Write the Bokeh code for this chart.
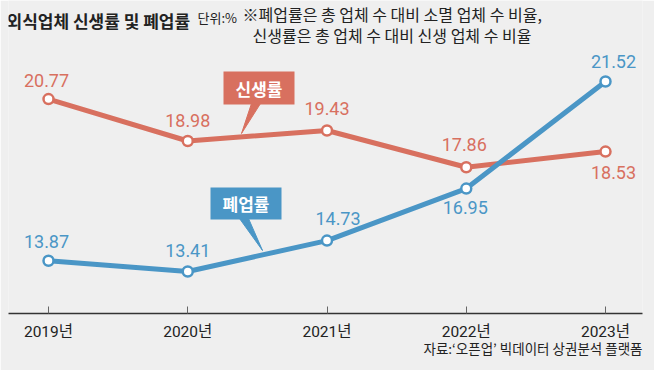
from bokeh.plotting import figure
from bokeh.models import Range1d, FixedTicker, Label, LinearAxis
from bokeh.embed import file_html
from bokeh.resources import INLINE

# ---- data ----
years = ["2019년", "2020년", "2021년", "2022년", "2023년"]
new_rate = [20.77, 18.98, 19.43, 17.86, 18.53]      # 신생률
close_rate = [13.87, 13.41, 14.73, 16.95, 21.52]    # 폐업률
x_idx = list(range(len(years)))
source_note = "자료:‘오픈업’ 빅데이터 상권분석 플랫폼"

# ---- style ----
BG = "#efefef"
RED = "#d8705f"
BLUE = "#4a96c6"
DARK = "#222222"
KR = "Noto Sans CJK KR"
NUM = "Roboto"

# frame geometry (page px) used to place annotations
X0_PX, DX_PX = 56.0, 139.25
Y0_PX, Y0_VAL, PX_PER = 89.0, 21.52, 23.43


def px2x(px):
    return (px - X0_PX) / DX_PX


def py2y(py):
    return Y0_VAL - (py - Y0_PX) / PX_PER


p = figure(width=654, height=370, output_backend="svg", toolbar_location=None,
           x_range=Range1d(px2x(16), px2x(650)), y_range=Range1d(py2y(321), py2y(8)),
           min_border_left=8, min_border_right=12, min_border_top=0, min_border_bottom=57,
           y_axis_location=None, background_fill_color=BG, border_fill_color=BG,
           outline_line_color=None)
p.grid.visible = False

# x axis
ax = p.xaxis[0]
ax.ticker = FixedTicker(ticks=x_idx)
ax.major_label_overrides = {i: y for i, y in zip(x_idx, years)}
ax.axis_line_color = "#333333"
ax.axis_line_width = 1.5
ax.major_tick_in = 7
ax.major_tick_out = 0
ax.major_tick_line_color = "#666666"
ax.minor_tick_line_color = None
ax.major_label_text_font = "Roboto, 'Noto Sans CJK KR'"
ax.major_label_text_font_size = "15.5px"
ax.major_label_text_color = DARK
ax.major_label_standoff = 9

# source note as a bare second axis below
src_x = px2x(540.5)
src_ax = LinearAxis(ticker=FixedTicker(ticks=[src_x]),
                    major_label_overrides={src_x: source_note},
                    axis_line_color=None, major_tick_line_color=None,
                    minor_tick_line_color=None, major_tick_in=0, major_tick_out=0,
                    major_label_standoff=-6, major_label_text_font=KR,
                    major_label_text_font_size="13.5px", major_label_text_color=DARK)
p.add_layout(src_ax, "below")

# lines
p.line(x_idx, new_rate, line_color=RED, line_width=5)
p.line(x_idx, close_rate, line_color=BLUE, line_width=5)
p.scatter(x_idx, new_rate, size=10, fill_color="white", line_color=RED, line_width=2.5)
p.scatter(x_idx, close_rate, size=10, fill_color="white", line_color=BLUE, line_width=2.5)

# value labels
red_dy = [19, 21, 22, 23, -21]
red_dx = [-2, 0, 0, -2, 8]
blue_dy = [19, 21, 22, -19, 20]
blue_dx = [-2, 0, 11, -1, 8]
for xs, vals, dxs, dys, col in [(x_idx, new_rate, red_dx, red_dy, RED),
                                (x_idx, close_rate, blue_dx, blue_dy, BLUE)]:
    for xi, v, dx, dy in zip(xs, vals, dxs, dys):
        p.add_layout(Label(x=xi, y=v, x_offset=dx, y_offset=dy, text=f"{v:.2f}",
                           text_font=NUM, text_font_size="18px", text_color=col,
                           text_align="center", text_baseline="middle"))


# callouts
def callout(text, color, l, r, t, b, tri):
    p.patch([px2x(a) for a, _ in tri], [py2y(c) for _, c in tri],
            fill_color=color, line_color=color, line_width=1)
    p.quad(left=[px2x(l)], right=[px2x(r)], top=[py2y(t)], bottom=[py2y(b)],
           fill_color=color, line_color=None)
    p.add_layout(Label(x=px2x((l + r) / 2), y=py2y((t + b) / 2), text=text,
                       text_font=KR, text_font_size="17px", text_font_style="bold",
                       text_color="white", text_align="center", text_baseline="middle"))


callout("신생률", RED, 231, 302, 79, 112, [(259, 111), (268, 111), (249, 141)])
callout("폐업률", BLUE, 218, 289, 195, 227, [(247, 226), (256, 226), (270, 258)])

# title block
p.add_layout(Label(x=px2x(14), y=py2y(28), text="외식업체 신생률 및 폐업률", text_font=KR,
                   text_font_size="17px", text_font_style="bold", text_color=DARK,
                   text_baseline="middle"))
p.add_layout(Label(x=px2x(205), y=py2y(25), text="단위:%", text_font=KR,
                   text_font_size="13px", text_color=DARK, text_baseline="middle"))
p.add_layout(Label(x=px2x(250), y=py2y(21), text="※폐업률은 총 업체 수 대비 소멸 업체 수 비율,",
                   text_font=KR, text_font_size="16px", text_color=DARK, text_baseline="middle"))
p.add_layout(Label(x=px2x(260), y=py2y(42), text="신생률은 총 업체 수 대비 신생 업체 수 비율",
                   text_font=KR, text_font_size="16px", text_color=DARK, text_baseline="middle"))

open("out.html", "w").write(file_html(p, INLINE))
